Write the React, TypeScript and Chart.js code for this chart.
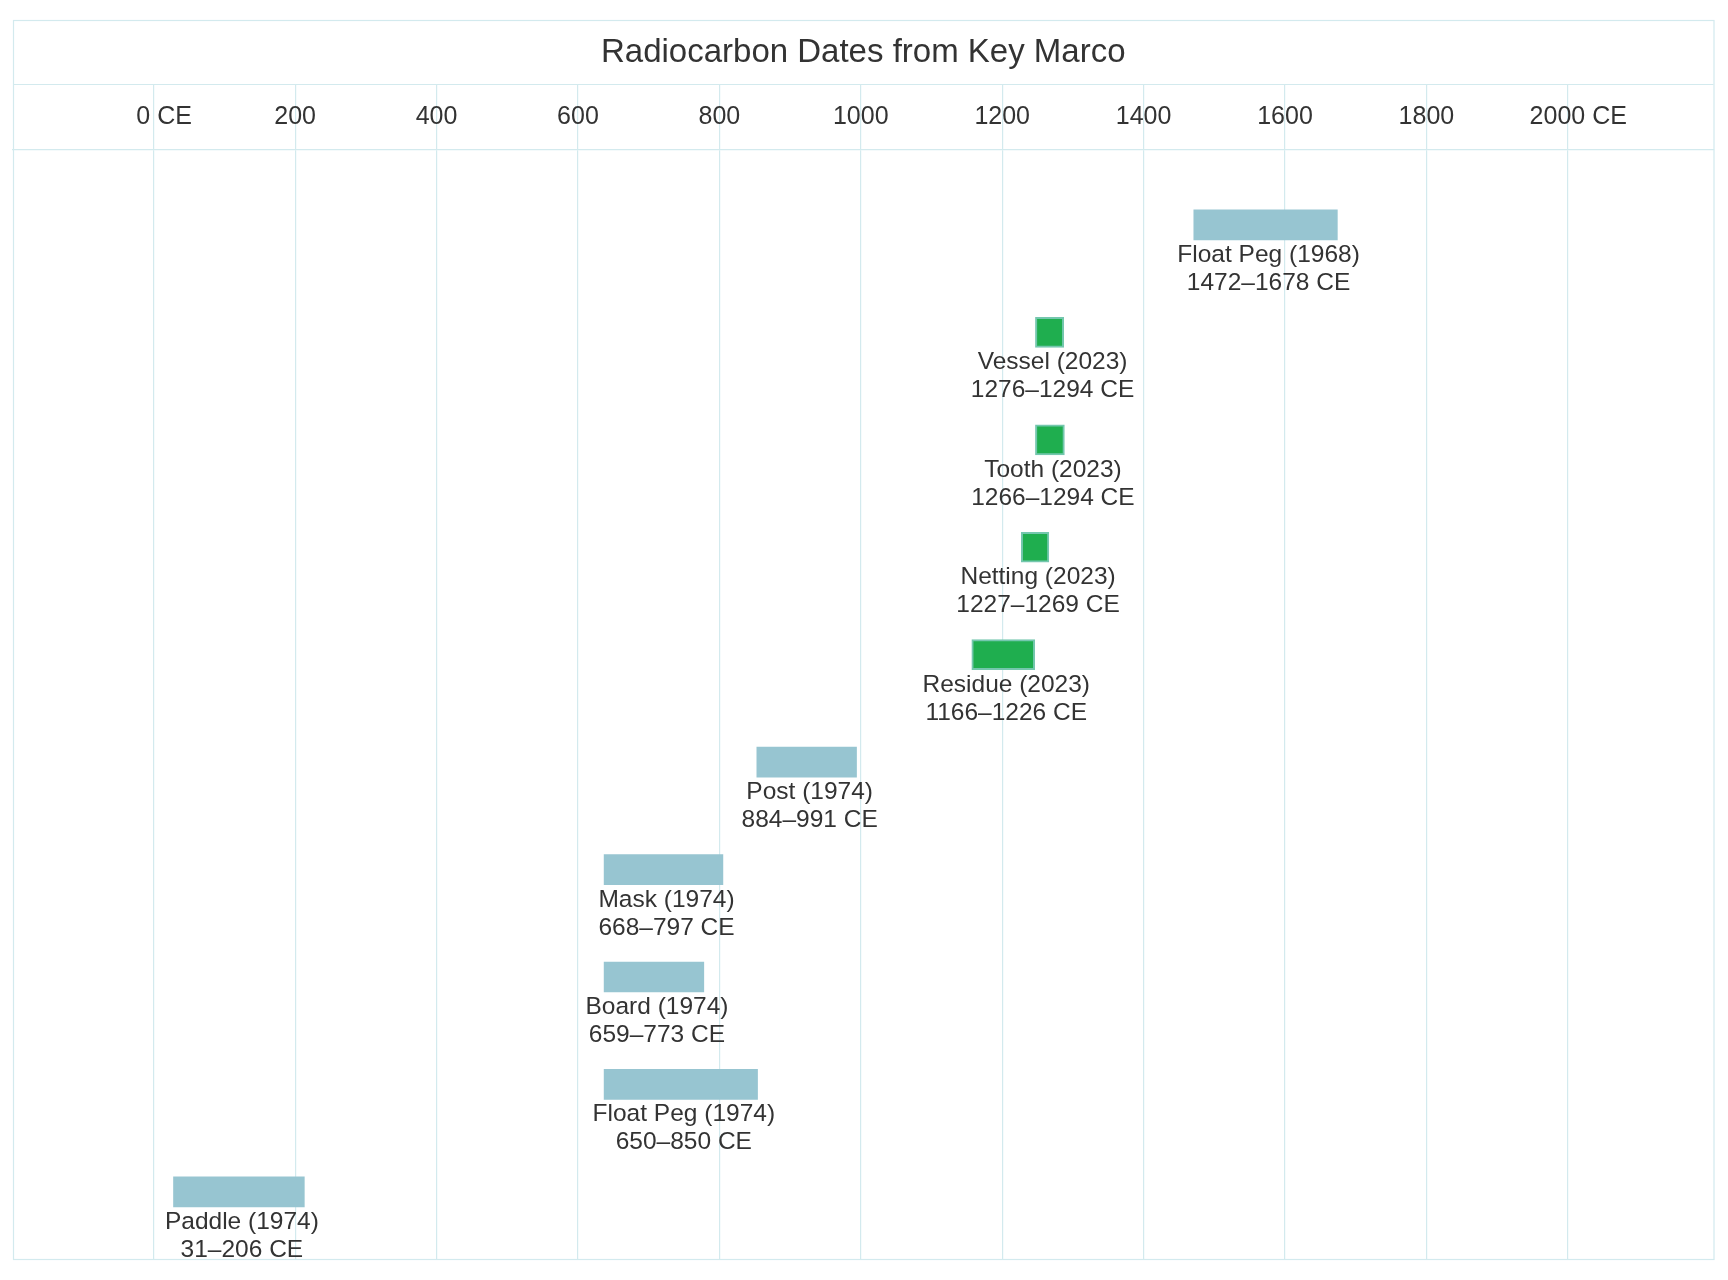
import { useEffect, useRef } from "react";
import { Chart, registerables } from "chart.js";

Chart.register(...registerables);

// ---- data ----
const chartTitle = "Radiocarbon Dates from Key Marco";
const sampleNames = ["Float Peg", "Vessel", "Tooth", "Netting", "Residue", "Post", "Mask", "Board", "Float Peg", "Paddle"];
const sampleYears = [1968, 2023, 2023, 2023, 2023, 1974, 1974, 1974, 1974, 1974];
const rangeLabels = [
  "1472–1678 CE",
  "1276–1294 CE",
  "1266–1294 CE",
  "1227–1269 CE",
  "1166–1226 CE",
  "884–991 CE",
  "668–797 CE",
  "659–773 CE",
  "650–850 CE",
  "31–206 CE",
];
const barStart = [1471, 1247, 1247, 1227, 1157, 853, 637, 637, 637, 28];
const barEnd = [1674, 1287, 1288, 1266, 1246, 994, 805, 778, 854, 213];
const tickValues = [0, 200, 400, 600, 800, 1000, 1200, 1400, 1600, 1800, 2000];
const tickLabels = ["0 CE", "200", "400", "600", "800", "1000", "1200", "1400", "1600", "1800", "2000 CE"];

// ---- styles ----
const FONT = "'Liberation Sans', Arial, Helvetica, sans-serif";
const GRID = "#d3eaee";
const TEXT = "#333333";
const BLUE = "#97c5d1";
const GREEN = "#1fae4f";
const GREEN_BORDER = "#74c7ae";

const framePlugin = {
  id: "frame",
  beforeDraw(chart: any) {
    const { ctx, chartArea, scales } = chart;
    const xs = scales.x;
    const top = chart.titleBlock ? chart.titleBlock.top : xs.top - 64;
    ctx.save();
    ctx.strokeStyle = GRID;
    ctx.lineWidth = 1.2;
    ctx.strokeRect(chartArea.left + 0.5, top + 0.5, chartArea.right - chartArea.left, chartArea.bottom - top);
    ctx.beginPath();
    ctx.moveTo(chartArea.left, Math.round(xs.top) + 0.5);
    ctx.lineTo(chartArea.right, Math.round(xs.top) + 0.5);
    ctx.stroke();
    ctx.restore();
  },
  afterDatasetsDraw(chart: any) {
    const { ctx } = chart;
    const meta = chart.getDatasetMeta(0);
    ctx.save();
    ctx.fillStyle = TEXT;
    ctx.font = `24.5px ${FONT}`;
    ctx.textAlign = "center";
    ctx.textBaseline = "alphabetic";
    meta.data.forEach((bar: any, i: number) => {
      const { x, base, y, height } = bar.getProps(["x", "base", "y", "height"], true);
      const cx = (x + base) / 2 + 3;
      const bottom = y + height / 2;
      ctx.fillText(`${sampleNames[i]} (${sampleYears[i]})`, cx, bottom + 22);
      ctx.fillText(rangeLabels[i], cx, bottom + 50);
    });
    ctx.restore();
  },
};

export default function App() {
  const canvasRef = useRef<HTMLCanvasElement | null>(null);

  useEffect(() => {
    if (!canvasRef.current) return;
    Chart.defaults.font.family = FONT;
    const data = sampleNames.map((_, i) => ({ x: [barStart[i], barEnd[i]], y: i }));
    const chart = new Chart(canvasRef.current, {
      type: "bar",
      data: {
        datasets: [
          {
            data: data as any,
            backgroundColor: sampleYears.map((yr) => (yr === 2023 ? GREEN : BLUE)),
            borderColor: sampleYears.map((yr) => (yr === 2023 ? GREEN_BORDER : BLUE)),
            borderWidth: sampleYears.map((yr) => (yr === 2023 ? 2 : 0)),
            borderSkipped: false,
            barThickness: 30,
          },
        ],
      },
      options: {
        indexAxis: "y",
        animation: false,
        responsive: true,
        maintainAspectRatio: false,
        layout: { padding: { top: 12, left: 5, right: 6.5, bottom: 11 } },
        plugins: {
          legend: { display: false },
          tooltip: { enabled: false },
          title: {
            display: true,
            text: chartTitle,
            color: TEXT,
            font: { size: 33, weight: "normal", family: FONT, lineHeight: 1.2 },
            padding: { top: 13.5, bottom: 11 },
          },
        },
        scales: {
          x: {
            type: "linear",
            position: "top",
            min: -199,
            max: 2206,
            afterBuildTicks: (s: any) => {
              s.ticks = tickValues.map((v) => ({ value: v }));
            },
            afterFit: (s: any) => {
              s.height = 65;
            },
            grid: {
              color: GRID,
              lineWidth: 1.2,
              drawTicks: true,
              tickLength: 65,
              tickColor: GRID,
              tickWidth: 1.2,
            },
            border: { display: true, color: GRID, width: 1.2 },
            ticks: {
              color: TEXT,
              font: { size: 25, family: FONT, lineHeight: 1.2 },
              padding: -48.5,
              maxRotation: 0,
              autoSkip: false,
              callback: (v: any) => {
                const idx = tickValues.indexOf(Number(v));
                if (idx < 0) return "";
                const lbl = tickLabels[idx];
                // labels carrying the era suffix sit a little right of their gridline in the reference
                return lbl.endsWith("CE") ? "\u00a0\u00a0\u00a0" + lbl : lbl;
              },
            },
          },
          y: {
            type: "linear",
            display: false,
            reverse: true,
            offset: false,
            grace: 0,
            min: -0.706,
            max: 9.625,
          },
        },
      },
      plugins: [framePlugin],
    });
    return () => chart.destroy();
  }, []);

  return (
    <div style={{ width: 1712, height: 1262, position: "relative" }}>
      <canvas ref={canvasRef} />
    </div>
  );
}
